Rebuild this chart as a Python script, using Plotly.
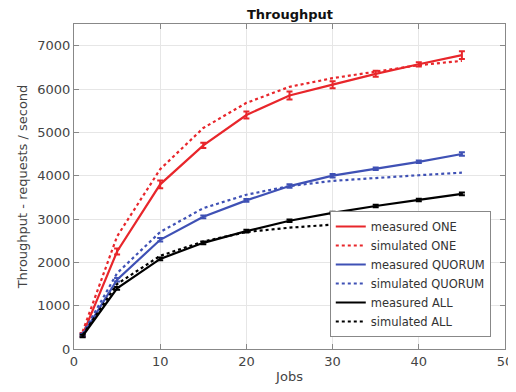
import plotly.graph_objects as go

jobs = [1, 5, 10, 15, 20, 25, 30, 35, 40, 45]
meas_one = [330, 2250, 3800, 4700, 5400, 5850, 6100, 6350, 6570, 6780]
err_one = [40, 70, 90, 60, 80, 90, 80, 70, 50, 90]
sim_one = [400, 2600, 4150, 5100, 5680, 6050, 6250, 6400, 6550, 6650]
meas_quorum = [320, 1600, 2520, 3050, 3430, 3760, 4000, 4160, 4320, 4500]
err_quorum = [30, 40, 40, 30, 30, 40, 40, 30, 30, 40]
sim_quorum = [350, 1750, 2700, 3250, 3560, 3760, 3880, 3950, 4010, 4070]
meas_all = [300, 1400, 2080, 2450, 2720, 2960, 3140, 3300, 3440, 3580]
err_all = [30, 30, 30, 30, 30, 30, 30, 30, 30, 30]
sim_all = [320, 1500, 2150, 2480, 2700, 2800, 2870, 2930, 2970, 3000]

RED = "#e8262b"
BLUE = "#3f51b5"
BLACK = "#000000"

fig = go.Figure()

def add(name, y, color, dash, err=None):
    tr = dict(x=jobs, y=y, name=name, mode="lines",
              line=dict(color=color, width=2.2, dash=dash))
    if err is not None:
        tr["error_y"] = dict(type="data", array=err, color=color, thickness=2, width=3)
    fig.add_trace(go.Scatter(**tr))

add("measured ONE", meas_one, RED, "solid", err_one)
add("simulated ONE", sim_one, RED, "dot")
add("measured QUORUM", meas_quorum, BLUE, "solid", err_quorum)
add("simulated QUORUM", sim_quorum, BLUE, "dot")
add("measured ALL", meas_all, BLACK, "solid", err_all)
add("simulated ALL", sim_all, BLACK, "dot")

axis_common = dict(showline=True, linecolor="#888", linewidth=1, mirror="ticks",
                   ticks="inside", ticklen=5, tickcolor="#888", automargin=False,
                   showgrid=True, gridcolor="#e6e6e6", zeroline=False,
                   tickfont=dict(size=13, color="#444"))

fig.update_layout(
    width=508, height=384,
    margin=dict(l=66, r=11, t=16, b=43),
    paper_bgcolor="white", plot_bgcolor="white",
    font=dict(family="DejaVu Sans", color="#333"),
    title=dict(text="<b>Throughput</b>", x=282 / 508, xanchor="center",
               y=1 - 6 / 384, yanchor="middle",
               font=dict(size=13, color="#111")),
    xaxis=dict(range=[0, 50], dtick=10, title=dict(text="Jobs", font=dict(size=13, color="#444"), standoff=4), **axis_common),
    yaxis=dict(range=[0, 7500], tickvals=[0, 1000, 2000, 3000, 4000, 5000, 6000, 7000],
               title=dict(text="Throughput - requests / second", font=dict(size=13, color="#444"), standoff=6), **axis_common),
    legend=dict(x=0.967, y=0.037, xanchor="right", yanchor="bottom",
                bgcolor="white", bordercolor="#888", borderwidth=1,
                font=dict(size=11.5, color="#333"), tracegroupgap=0, itemwidth=30),
    showlegend=True,
)

fig.write_html("out.html")
